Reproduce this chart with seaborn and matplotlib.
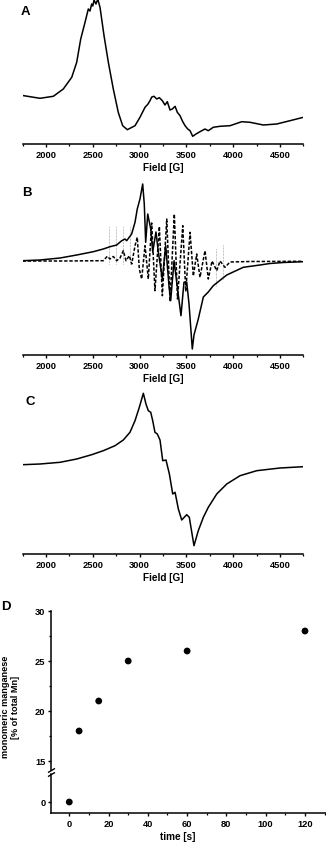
import numpy as np
import pandas as pd
import seaborn as sns
import matplotlib.pyplot as plt
from matplotlib.ticker import MultipleLocator, FixedLocator

# ---- panel A: experimental spectrum ----
a_field = [1750, 1936, 2078, 2185, 2275, 2328, 2371, 2417, 2452, 2470, 2488, 2500, 2513,
           2534, 2545, 2556, 2577, 2620, 2666, 2719, 2772, 2819, 2869, 2951, 3004, 3058,
           3090, 3111, 3130, 3154, 3183, 3211, 3243, 3271, 3296, 3325, 3350, 3379, 3403,
           3432, 3461, 3486, 3514, 3539, 3567, 3603, 3645, 3698, 3734, 3787, 3859, 3966,
           4091, 4180, 4322, 4465, 4607, 4750]
a_int = [48.5, 45.7, 47.7, 55, 66.7, 81.7, 105, 121.7, 135, 133, 140, 138, 144,
         140, 143, 144, 136.7, 108.3, 81.7, 55, 31.7, 18.3, 14.3, 18.3, 26.7, 36.7,
         40, 43.3, 47, 47.7, 45, 46.3, 43.3, 39, 42.3, 34, 35, 37.7, 31.7,
         28.3, 22.3, 18.3, 15, 13.3, 7.7, 10, 12.3, 15, 13.3, 16.7, 17.7, 18.3,
         22.3, 21.7, 19, 20, 23.3, 26.7]

# ---- panel B: spectrum (solid) and simulation (dashed) ----
b_field = [1750, 1936, 2150, 2328, 2505, 2612, 2684, 2755, 2809, 2844, 2862, 2915, 2951,
           2975, 3004, 3033, 3050, 3065, 3087, 3119, 3140, 3175, 3200, 3243, 3279, 3314,
           3332, 3368, 3396, 3442, 3474, 3503, 3528, 3563, 3581, 3627, 3681, 3734, 3787,
           3877, 3931, 4108, 4286, 4393, 4535, 4750]
b_int = [0.3, 1, 3, 6, 9.3, 12, 14.3, 16, 20.3, 22, 20.3, 27, 38.7,
         52, 62, 77, 57, 18.7, 47, 32, 9, 29, 9, -18, 15.3, -24.7,
         -39.7, 0.3, -21, -54.7, -21.3, -21, -43, -88, -74, -58, -36, -31, -24.7,
         -18, -14, -6.3, -4, -2.5, -1.5, -0.7]
sim_field = [1750, 2150, 2612, 2655, 2684, 2719, 2755, 2791, 2826, 2855, 2890, 2916, 2951,
             2975, 2997, 3022, 3058, 3093, 3129, 3164, 3211, 3243, 3290, 3325, 3371, 3405,
             3461, 3493, 3539, 3574, 3610, 3645, 3699, 3734, 3774, 3824, 3859, 3912, 3966,
             4180, 4750]
sim_int = [0, 0, 0.3, 4.7, 2, 4.5, 0.3, 3, 10.3, 0.3, 5.3, -3, 15.3,
           23.7, -8, -18, 15.3, -18, 38, -29.7, 34.5, -34.7, 42, -40.5, 47, -38,
           35.3, -30.5, 28.7, -15, 7, -16.3, 10.3, -18, 0, -9.7, 0, -6.3, -1,
           -0.5, -0.3]
stick_field = [2673, 2748, 2826, 2897, 3816, 3894]
stick_top = [35, 35, 35, 35, 12, 17]
stick_bottom = [-3, -3, -3, -3, -25, -18]

# ---- panel C: simulated sum spectrum ----
c_field = [1750, 1936, 2150, 2328, 2488, 2612, 2737, 2826, 2897, 2951, 2997, 3040, 3068,
           3093, 3119, 3140, 3164, 3189, 3218, 3247, 3282, 3318, 3354, 3379, 3414, 3450,
           3503, 3531, 3581, 3627, 3681, 3734, 3824, 3931, 4073, 4251, 4500, 4750]
c_int = [0.3, 1, 2.7, 6, 10.3, 14.3, 19.3, 25, 32.7, 44.3, 57.7, 71.7, 61,
         54.3, 52.7, 44.3, 32.7, 31, 25, 4.3, 5, -9, -29, -27.3, -44, -55,
         -49.7, -52.3, -80.7, -65.7, -52.3, -42.3, -29, -19, -10.7, -5.7, -3, -1.7]

# ---- panel D: monomeric Mn vs time ----
time_s = [0, 5, 15, 30, 60, 120]
mono_mn = [0, 18, 21, 25, 26, 28]

sns.set_theme(style="ticks")
plt.rcParams['font.family'] = ['Liberation Sans', 'DejaVu Sans']
plt.rcParams['font.weight'] = 'bold'
plt.rcParams['axes.labelweight'] = 'bold'
for k in ['text.color', 'axes.labelcolor', 'xtick.color', 'ytick.color', 'axes.edgecolor']:
    plt.rcParams[k] = 'black'

W, H = 326, 845
fig = plt.figure(figsize=(W / 100, H / 100), dpi=100)


def px_axes(left, top, right, bottom):
    return fig.add_axes([left / W, 1 - bottom / H, (right - left) / W, (bottom - top) / H])


def style_axis(ax, xmajor, xminor, fs=6.7):
    for s in ['top', 'right']:
        ax.spines[s].set_visible(False)
    for s in ax.spines.values():
        s.set_linewidth(1.1)
        s.set_color('black')
    ax.xaxis.set_major_locator(MultipleLocator(xmajor))
    ax.xaxis.set_minor_locator(MultipleLocator(xminor))
    ax.tick_params(axis='both', which='major', direction='out', length=2.5, width=1.0,
                   labelsize=fs, pad=1.5, colors='black')
    ax.tick_params(axis='both', which='minor', direction='out', length=1.6, width=0.9)
    ax.set_facecolor('none')


def spectrum_axis(ax, ylim, letter, lx, ly):
    style_axis(ax, 500, 250)
    ax.spines['left'].set_visible(False)
    ax.set_yticks([])
    ax.set_xlim(1750, 4750)
    ax.set_ylim(*ylim)
    ax.set_xlabel('Field [G]', fontsize=7.2, labelpad=2.5)
    ax.set_ylabel('')
    fig.text(lx / W, 1 - ly / H, letter, fontsize=9.5, fontweight='bold', ha='left',
             va='center', color='black')


# A
axA = px_axes(22.6, 0, 303.4, 145)
sns.lineplot(x=a_field, y=a_int, ax=axA, color='black', lw=1.1, sort=False, estimator=None)
spectrum_axis(axA, (0, 145), 'A', 21, 12)

# B
axB = px_axes(22.6, 180, 303.4, 356)
for f, t, b in zip(stick_field, stick_top, stick_bottom):
    axB.vlines(f, b, t, colors='#999999', linestyles=(0, (0.6, 0.9)), lw=0.7)
sns.lineplot(x=sim_field, y=sim_int, ax=axB, color='black', lw=1.1, sort=False,
             estimator=None, linestyle=(0, (2.2, 1.2)))
sns.lineplot(x=b_field, y=b_int, ax=axB, color='black', lw=1.1, sort=False, estimator=None)
spectrum_axis(axB, (-94, 82), 'B', 22, 193)

# C
axC = px_axes(22.6, 385, 303.4, 555)
sns.lineplot(x=c_field, y=c_int, ax=axC, color='black', lw=1.1, sort=False, estimator=None)
spectrum_axis(axC, (-89, 81), 'C', 26, 402)

# D (broken y axis)
df = pd.DataFrame({'time': time_s, 'mono': mono_mn})
axD1 = px_axes(51, 612, 326, 771)
axD2 = px_axes(51, 775, 326, 814)
for ax in (axD1, axD2):
    sns.scatterplot(data=df, x='time', y='mono', ax=ax, color='black', s=24,
                    edgecolor='none', clip_on=True, legend=False)
    style_axis(ax, 20, 10)
    ax.set_xlim(-9.3, 130.7)
    ax.set_ylabel('')
axD1.set_ylim(14.1, 30)
axD1.yaxis.set_major_locator(FixedLocator([15, 20, 25, 30]))
axD1.yaxis.set_minor_locator(FixedLocator([17.5, 22.5, 27.5]))
axD1.spines['bottom'].set_visible(False)
axD1.tick_params(axis='x', which='both', bottom=False, labelbottom=False)
axD1.set_xlabel('')
axD2.set_ylim(-1.1, 2.8)
axD2.yaxis.set_major_locator(FixedLocator([0]))
axD2.yaxis.set_minor_locator(FixedLocator([]))
axD2.set_xlabel('time [s]', fontsize=7.2)
axD2.xaxis.set_label_coords((178 - 51) / 275, -0.46)

# break marks
kw = dict(marker=[(-1, -0.6), (1, 0.6)], markersize=5, linestyle='none',
          color='black', mec='black', mew=1.0, clip_on=False)
axD1.plot([0], [0], transform=axD1.transAxes, **kw)
axD2.plot([0], [1], transform=axD2.transAxes, **kw)

fig.text(1.5 / W, 1 - 607 / H, 'D', fontsize=9.5, fontweight='bold', ha='left', va='center')
fig.text(10.5 / W, 1 - 707 / H, 'monomeric manganese\n[% of total Mn]', fontsize=6.6,
         fontweight='bold', rotation=90, ha='center', va='center', multialignment='center',
         linespacing=1.15)

fig.savefig('out.png', dpi=100)
